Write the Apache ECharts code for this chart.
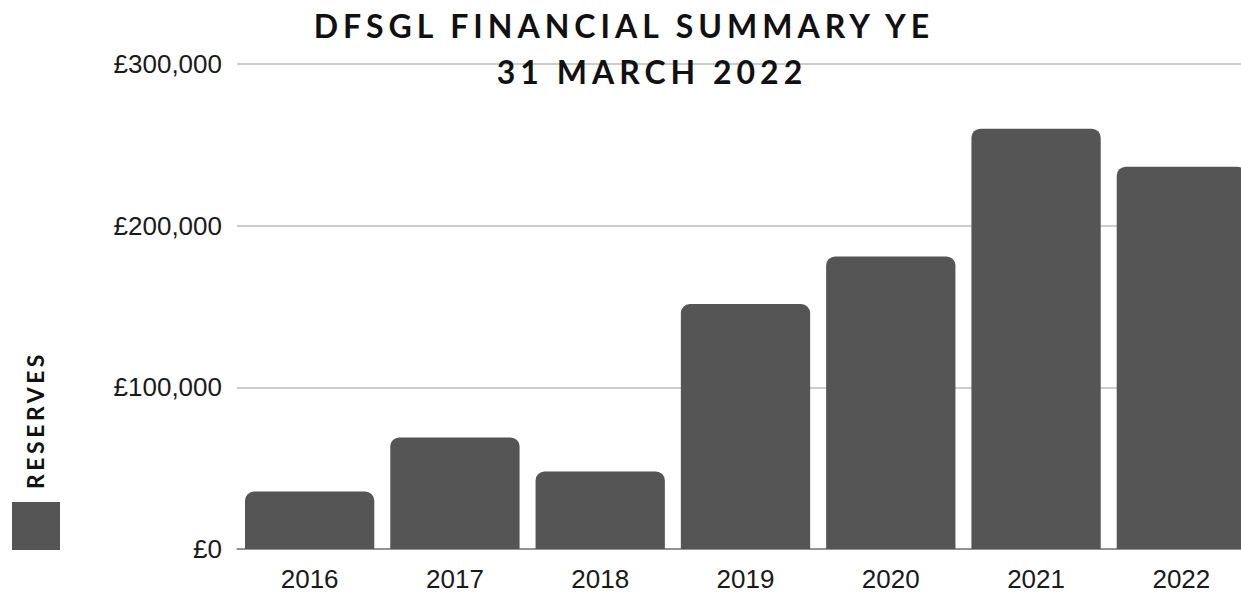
<!DOCTYPE html>
<html>
<head>
<meta charset="utf-8">
<script src="https://cdn.jsdelivr.net/npm/echarts@6/dist/echarts.min.js"></script>
<style>
  html, body { margin: 0; padding: 0; background: #fff; }
  #chart { width: 1241px; height: 603px; }
</style>
</head>
<body>
<div id="chart"></div>
<script>
// ----- data -----
const years = ['2016', '2017', '2018', '2019', '2020', '2021', '2022'];
const reserves = [35500, 69000, 48000, 151500, 181000, 260000, 236500];
const titleLines = ['DFSGL FINANCIAL SUMMARY YE', '31 MARCH 2022'];
const seriesName = 'RESERVES';
const yMin = 0, yMax = 300000, yStep = 100000;

const gbp = (v) => '£' + v.toLocaleString('en-GB');

const dom = document.getElementById('chart');
const chart = echarts.init(dom, null, { renderer: 'svg' });

const titleStyle = { fontFamily: 'Lato', fontWeight: 'bold', fontSize: 32, color: '#111' };

chart.setOption({
  animation: false,
  backgroundColor: '#fff',
  title: [
    { text: titleLines[0], left: 624, top: 9, textAlign: 'center', padding: 0, textStyle: titleStyle },
    { text: titleLines[1], left: 652, top: 55, textAlign: 'center', padding: 0, textStyle: titleStyle }
  ],
  legend: {
    data: [seriesName],
    left: 12, top: 502, padding: 0,
    icon: 'rect', itemWidth: 48, itemHeight: 48,
    formatter: () => '',
    selectedMode: false
  },
  graphic: [{
    type: 'text',
    x: 35, y: 420,
    rotation: Math.PI / 2,
    style: {
      text: seriesName,
      fill: '#111',
      font: 'bold 23px Lato',
      align: 'center', verticalAlign: 'middle',
      textAlign: 'center', textVerticalAlign: 'middle'
    }
  }],
  grid: { left: 237, right: -13, top: 64, bottom: 54, outerBoundsMode: 'none' },
  xAxis: {
    type: 'category',
    data: years,
    axisTick: { show: false },
    axisLine: { lineStyle: { color: '#808080', width: 1.5 } },
    axisLabel: { color: '#1a1a1a', fontFamily: 'Liberation Sans', fontSize: 26, margin: 17 }
  },
  yAxis: {
    type: 'value',
    min: yMin, max: yMax, interval: yStep,
    axisLine: { show: false },
    axisTick: { show: false },
    splitLine: { lineStyle: { color: '#cccccc', width: 2 } },
    axisLabel: { color: '#1a1a1a', fontFamily: 'Liberation Sans', fontSize: 26, margin: 15, formatter: gbp }
  },
  series: [{
    name: seriesName,
    type: 'bar',
    data: reserves,
    barCategoryGap: '11%',
    itemStyle: { color: '#555555', borderRadius: [9, 9, 0, 0] }
  }]
});

// letter spacing on the spaced-out headings (svg renderer)
function spaceOut() {
  dom.querySelectorAll('text').forEach(t => {
    const s = t.textContent;
    if (s === titleLines[0] || s === titleLines[1]) t.style.letterSpacing = '5px';
    else if (s === seriesName) t.style.letterSpacing = '3.5px';
  });
}
spaceOut();
chart.on('finished', spaceOut);
</script>
</body>
</html>
